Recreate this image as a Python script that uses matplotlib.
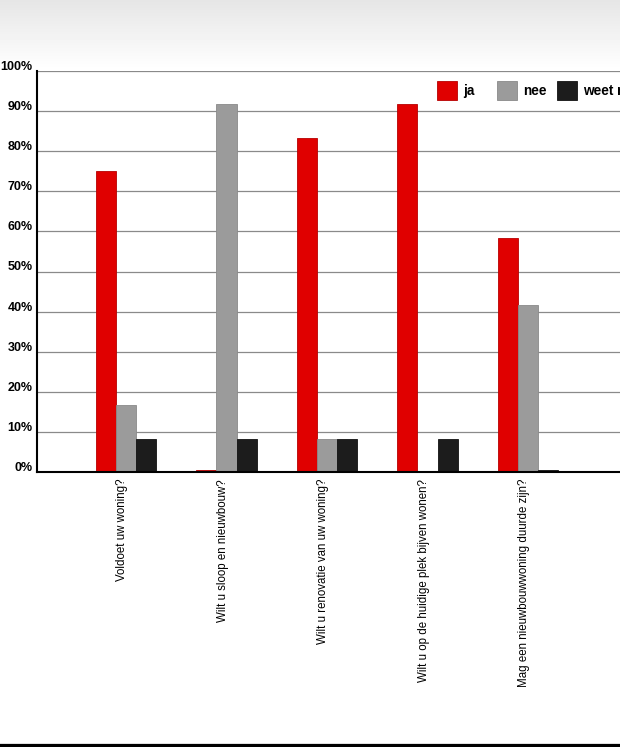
import numpy as np
import matplotlib
matplotlib.use("Agg")
import matplotlib.pyplot as plt
import matplotlib.transforms as mtransforms
from matplotlib.patches import Patch

# survey answers (share of respondents, %)
questions = [
    "Voldoet uw woning?",
    "Wilt u sloop en nieuwbouw?",
    "Wilt u renovatie van uw woning?",
    "Wilt u op de huidige plek bijven wonen?",
    "Mag een nieuwbouwwoning duurde zijn?",
]
ja = [75.0, 0.4, 83.3, 91.7, 58.3]
nee = [16.7, 91.7, 8.3, 0.3, 41.7]
weet_niet = [8.3, 8.3, 8.3, 8.3, 0.4]
series_labels = ["ja", "nee", "weet niet"]
y_ticks = [0, 10, 20, 30, 40, 50, 60, 70, 80, 90, 100]

COLORS = ["#e00000", "#9b9b9b", "#1c1c1c"]
EDGES = ["#b80000", "#8a8a8a", "#111111"]
SANS = ["Liberation Sans", "DejaVu Sans"]

fig = plt.figure(figsize=(6.2, 7.47), dpi=100)
fig.patch.set_facecolor("white")

# soft grey gradient across the top of the page
bg = fig.add_axes([0, 0, 1, 1], zorder=-10)
grad = np.ones((747, 2))
top = np.linspace(0.90, 1.0, 70)
grad[:70, :] = top[:, None]
bg.imshow(grad, cmap="gray", vmin=0, vmax=1, aspect="auto", extent=[0, 1, 0, 1])
bg.axis("off")

# bottom border of the page
fig.add_artist(plt.Line2D([0, 1], [3.5 / 747, 3.5 / 747], color="#c8c8c8", lw=1))
fig.add_artist(plt.Line2D([0, 1], [1.2 / 747, 1.2 / 747], color="black", lw=3))

ax = fig.add_axes([37 / 620, 275 / 747, 640 / 620, 401 / 747])
ax.set_facecolor("none")

x = np.arange(len(questions))
w = 0.2
for i, (vals, c, ec) in enumerate(zip([ja, nee, weet_niet], COLORS, EDGES)):
    ax.bar(x + (i - 1) * w, vals, width=w, color=c, edgecolor=ec, linewidth=0.6,
           label=series_labels[i], zorder=3)

ax.set_ylim(0, 100)
ax.set_xlim(-0.886, -0.886 + 640 / 100.5)
ax.set_yticks(y_ticks)
ax.set_yticklabels([f"{t}%" for t in y_ticks], family=SANS,
                   fontweight="bold", fontsize=9.0, va="center")
ax.tick_params(axis="y", length=0, pad=3)
lift = mtransforms.ScaledTranslation(0, 4 / 100, fig.dpi_scale_trans)
for lab in ax.get_yticklabels():
    lab.set_transform(lab.get_transform() + lift)
ax.grid(axis="y", color="#8a8a8a", lw=0.9, zorder=1)

ax.set_xticks(x - 0.04)
ax.set_xticklabels(questions, rotation=90, va="top", ha="center",
                   family=SANS, fontsize=8.3)
ax.tick_params(axis="x", length=0, pad=5)

for side in ["top", "right"]:
    ax.spines[side].set_visible(False)
ax.spines["left"].set_linewidth(1.5)
ax.spines["bottom"].set_linewidth(1.5)
ax.spines["left"].set_zorder(4)
ax.spines["bottom"].set_zorder(4)

# legend entries sit on a fixed 60 px pitch, running off the right edge
for k, (lab, c, ec) in enumerate(zip(series_labels, COLORS, EDGES)):
    fig.legend([Patch(facecolor=c, edgecolor=ec, lw=0.6)], [lab], loc="upper left",
               bbox_to_anchor=((437 + 60 * k) / 620, 1 - 81 / 747), frameon=False,
               borderpad=0, borderaxespad=0, handlelength=1.5, handleheight=1.75,
               handletextpad=0.45,
               prop={"family": SANS, "weight": "bold", "size": 9.8})

fig.savefig("out.png", dpi=100)
